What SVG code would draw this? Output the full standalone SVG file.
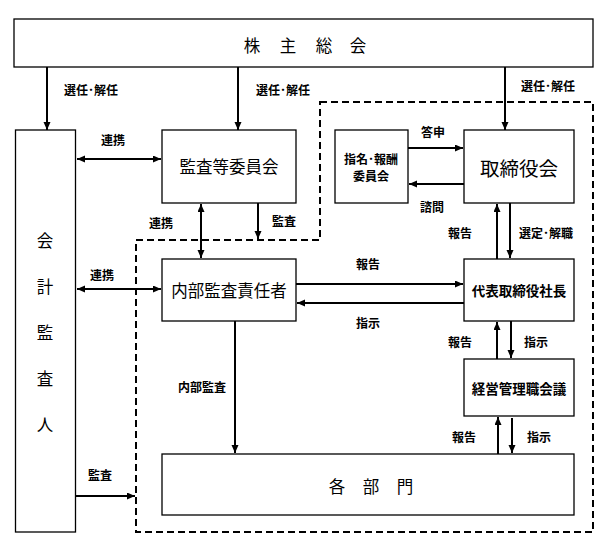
<svg xmlns="http://www.w3.org/2000/svg" width="609" height="554" viewBox="0 0 609 554">
<style>
.box{fill:#fff;stroke:#000;stroke-width:1.3}
.t{font-family:"Noto Sans CJK JP","Liberation Sans",sans-serif;fill:#000;text-anchor:middle;dominant-baseline:central}
.big{font-size:16.5px}
.mid{font-size:13.5px;font-weight:bold}
.sm{font-size:12px;font-weight:bold}
.lbl{font-size:12px;font-weight:bold}
.ln{stroke:#000;stroke-width:2;fill:none}
.dash{stroke:#000;stroke-width:2;fill:none;stroke-dasharray:7,4}
</style>
<defs>
<marker id="ah" markerUnits="userSpaceOnUse" markerWidth="9" markerHeight="8" refX="8" refY="3.5" orient="auto-start-reverse">
<path d="M0,0 L8,3.5 L0,7 z" fill="#000"/>
</marker>
</defs>
<rect width="609" height="554" fill="#fff"/>
<polygon class="dash" points="320,102 593,102 593,532 136,532 136,240 320,240"/>
<g id="shareholders">
<rect class="box" x="14" y="19" width="579" height="48"/>
<text class="t" font-size="16.5" x="252 288 324 358" y="45">株主総会</text>
</g>
<g id="auditor">
<rect class="box" x="15.5" y="130" width="60" height="402"/>
<text class="t big" x="45" y="240">会</text>
<text class="t big" x="45" y="286">計</text>
<text class="t big" x="45" y="332">監</text>
<text class="t big" x="45" y="378">査</text>
<text class="t big" x="45" y="424">人</text>
</g>
<g id="audit-committee">
<rect class="box" x="162" y="130" width="134" height="73"/>
<text class="t big" x="229" y="166">監査等委員会</text>
</g>
<g id="nomination-committee">
<rect class="box" x="335" y="130" width="73" height="73"/>
<text class="t sm" x="371" y="158">指名･報酬</text>
<text class="t sm" x="371" y="175">委員会</text>
</g>
<g id="board">
<rect class="box" x="464" y="130" width="110" height="73"/>
<text class="t" font-size="19.5" x="519" y="167">取締役会</text>
</g>
<g id="internal-audit">
<rect class="box" x="162" y="259" width="134" height="62"/>
<text class="t big" x="229" y="290">内部監査責任者</text>
</g>
<g id="president">
<rect class="box" x="464" y="259" width="110" height="62"/>
<text class="t mid" x="519" y="290">代表取締役社長</text>
</g>
<g id="management-council">
<rect class="box" x="464" y="359" width="110" height="57"/>
<text class="t mid" x="519" y="388">経営管理職会議</text>
</g>
<g id="departments">
<rect class="box" x="162" y="454" width="412" height="61"/>
<text class="t" font-size="16.5" x="337 371 405" y="486">各部門</text>
</g>
<g id="connectors">
<line class="ln" x1="47" y1="67" x2="47" y2="130" marker-end="url(#ah)"/>
<line class="ln" x1="238" y1="67" x2="238" y2="130" marker-end="url(#ah)"/>
<line class="ln" x1="505" y1="67" x2="505" y2="130" marker-end="url(#ah)"/>
<line class="ln" x1="77" y1="159" x2="161" y2="159" marker-start="url(#ah)" marker-end="url(#ah)"/>
<line class="ln" x1="201" y1="204" x2="201" y2="258" marker-start="url(#ah)" marker-end="url(#ah)"/>
<line class="ln" x1="258" y1="203" x2="258" y2="239" marker-end="url(#ah)"/>
<line class="ln" x1="77" y1="289" x2="161" y2="289" marker-start="url(#ah)" marker-end="url(#ah)"/>
<line class="ln" x1="408" y1="148" x2="463" y2="148" marker-end="url(#ah)"/>
<line class="ln" x1="464" y1="184" x2="409" y2="184" marker-end="url(#ah)"/>
<line class="ln" x1="497" y1="259" x2="497" y2="204" marker-end="url(#ah)"/>
<line class="ln" x1="510" y1="203" x2="510" y2="258" marker-end="url(#ah)"/>
<line class="ln" x1="296" y1="284" x2="463" y2="284" marker-end="url(#ah)"/>
<line class="ln" x1="464" y1="303" x2="297" y2="303" marker-end="url(#ah)"/>
<line class="ln" x1="497" y1="359" x2="497" y2="322" marker-end="url(#ah)"/>
<line class="ln" x1="511" y1="321" x2="511" y2="358" marker-end="url(#ah)"/>
<line class="ln" x1="498" y1="454" x2="498" y2="417" marker-end="url(#ah)"/>
<line class="ln" x1="512" y1="418" x2="512" y2="453" marker-end="url(#ah)"/>
<line class="ln" x1="235" y1="321" x2="235" y2="453" marker-end="url(#ah)"/>
<line class="ln" x1="76" y1="496" x2="135" y2="496" marker-end="url(#ah)"/>
</g>
<g id="labels">
<text class="t lbl" x="91" y="89">選任･解任</text>
<text class="t lbl" x="283" y="89">選任･解任</text>
<text class="t lbl" x="548" y="85">選任･解任</text>
<text class="t lbl" x="113" y="139">連携</text>
<text class="t lbl" x="161" y="222">連携</text>
<text class="t lbl" x="284" y="220">監査</text>
<text class="t lbl" x="102" y="274">連携</text>
<text class="t lbl" x="433" y="131">答申</text>
<text class="t lbl" x="432" y="206">諮問</text>
<text class="t lbl" x="460" y="232">報告</text>
<text class="t lbl" x="546" y="232">選定･解職</text>
<text class="t lbl" x="368" y="263">報告</text>
<text class="t lbl" x="368" y="322">指示</text>
<text class="t lbl" x="460" y="341">報告</text>
<text class="t lbl" x="536" y="341">指示</text>
<text class="t lbl" x="464" y="436">報告</text>
<text class="t lbl" x="539" y="436">指示</text>
<text class="t lbl" x="202" y="386">内部監査</text>
<text class="t lbl" x="100" y="474">監査</text>
</g>
</svg>
